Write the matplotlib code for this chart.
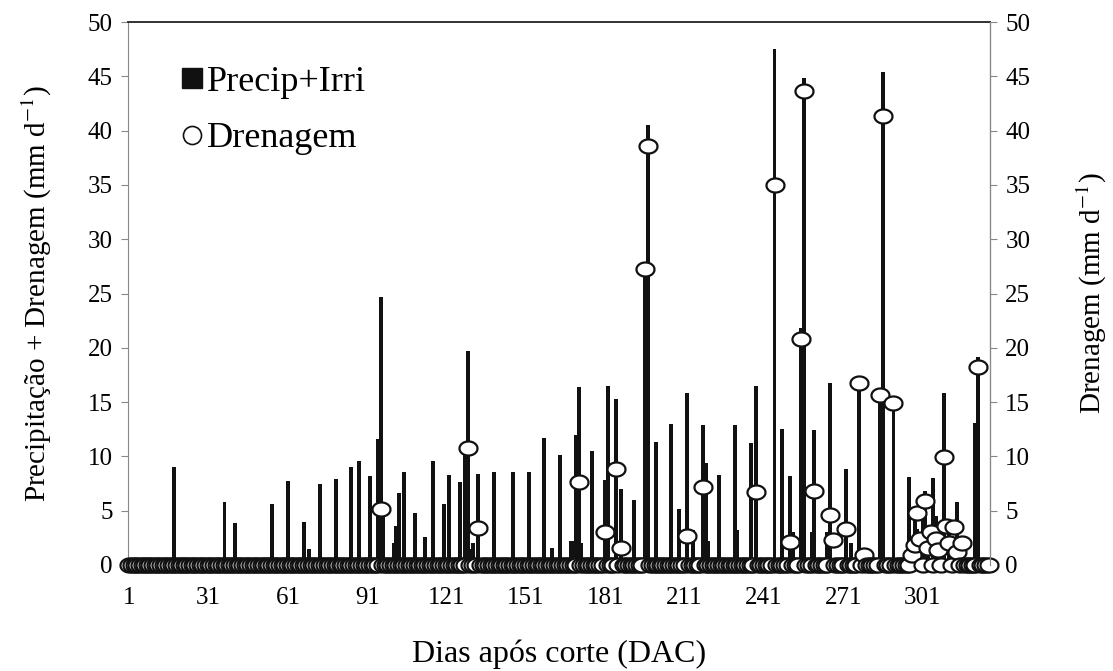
#Daily precipitation + irrigation and drainage after cutting
import numpy as np
import matplotlib.pyplot as plt
from matplotlib.lines import Line2D

plt.rcParams['font.family'] = ['Liberation Serif', 'DejaVu Serif']
plt.rcParams['mathtext.fontset'] = 'stix'

# Data (days with non-zero values, mm/d)
n_days = 326
rain_day = [18, 37, 41, 55, 61, 67, 69, 73, 79, 85, 88, 92, 95, 96, 97,
            101, 102, 103, 105, 109, 113, 116, 117, 120, 122, 126, 128, 129, 130, 131,
            133, 135, 139, 146, 152, 158, 161, 164, 168, 169, 170, 171, 172, 176,
            181, 182, 185, 187, 192, 196, 197, 200, 206, 209, 212, 214, 218, 219, 220,
            224, 230, 231, 236, 238, 245, 248, 251, 252, 255, 256, 259, 260, 265, 266,
            272, 274, 277, 285, 286, 290, 296, 298, 299, 301, 302, 303, 305, 306,
            309, 311, 314, 321, 322]
rain_mm = [9.0, 5.8, 3.9, 5.6, 7.7, 4.0, 1.5, 7.5, 7.9, 9.0, 9.6, 8.2, 11.6, 24.7, 5.6,
           2.0, 3.6, 6.6, 8.6, 4.8, 2.6, 9.6, 0.3, 5.6, 8.3, 7.6, 11.3, 19.7, 1.5, 2.0,
           8.4, 0.3, 8.6, 8.6, 8.6, 11.7, 1.6, 10.1, 2.2, 2.2, 12.0, 16.4, 2.0, 10.5,
           7.8, 16.5, 15.3, 7.0, 6.0, 26.5, 40.5, 11.3, 13.0, 5.2, 15.8, 3.2, 12.9, 9.4, 2.2,
           8.3, 12.9, 3.2, 11.2, 16.5, 47.5, 12.5, 8.2, 3.0, 21.8, 44.9, 3.0, 12.4, 3.0, 16.8,
           8.8, 2.0, 16.0, 16.2, 45.4, 15.6, 8.1, 4.8, 3.3, 6.0, 6.8, 3.0, 8.0, 4.5,
           15.8, 3.0, 5.8, 13.1, 19.2]

drain_day = [96, 129, 133, 171, 181, 185, 187, 196, 197, 212, 218, 238, 245, 251,
             255, 256, 260, 266, 267, 272, 277, 279, 285, 286, 290, 297, 298, 299, 300,
             302, 303, 304, 306, 307, 309, 310, 311, 313, 314, 316, 322]
drain_mm = [5.2, 10.8, 3.4, 7.6, 3.0, 8.8, 1.6, 27.3, 38.6, 2.7, 7.2, 6.7, 35.0, 2.1,
            20.8, 43.7, 6.8, 4.6, 2.3, 3.3, 16.8, 0.9, 15.7, 41.4, 14.9, 0.9, 1.8, 4.8, 2.4,
            5.9, 1.6, 3.0, 2.4, 1.4, 9.9, 3.6, 2.0, 3.5, 1.2, 2.0, 18.2]

tick_days = [1, 31, 61, 91, 121, 151, 181, 211, 241, 271, 301]

days = np.arange(1, n_days + 1)
rain = np.zeros(n_days)
rain[np.array(rain_day) - 1] = rain_mm
drain = np.zeros(n_days)
drain[np.array(drain_day) - 1] = drain_mm

# slightly flattened circle marker
t = np.linspace(0, 2 * np.pi, 40)
ellipse = list(zip(np.cos(t), 0.78 * np.sin(t)))

fig = plt.figure(figsize=(11.13, 6.71), dpi=100)
ax = fig.add_axes([0.115, 0.158, 0.7745, 0.809])
ax.bar(days, rain, width=1.5, color='#111111', linewidth=0)
ax.set_xlim(0.5, n_days + 0.5)
ax.set_ylim(0, 50)
ax.set_yticks(range(0, 51, 5))
ax.set_xticks(tick_days)
ax.set_xticklabels([str(d) for d in tick_days])
ax.tick_params(axis='x', length=0, pad=16, labelsize=18)
ax.tick_params(axis='y', direction='out', length=5, color='#888888', labelsize=18, pad=6)
ax.spines['left'].set_color('#888888')
ax.spines['top'].set_color('#222222')
ax.spines['top'].set_linewidth(1.3)
ax.set_ylabel('Precipitação + Drenagem (mm d$^{-1}$)', fontsize=21, labelpad=24)
ax.set_xlabel('Dias após corte (DAC)', fontsize=23, labelpad=22)

ax2 = ax.twinx()
ax2.set_ylim(0, 50)
ax2.set_yticks(range(0, 51, 5))
ax2.plot(days, drain, linestyle='none', marker=ellipse, markersize=13,
         markerfacecolor='white', markeredgecolor='#111111', markeredgewidth=1.6,
         clip_on=False)
ax2.tick_params(axis='y', direction='out', length=5, color='#888888', labelsize=18, pad=6)
ax2.spines['right'].set_color('#888888')
ax2.spines['left'].set_visible(False)
ax2.spines['top'].set_visible(False)
ax2.spines['bottom'].set_visible(False)
ax2.set_ylabel('Drenagem (mm d$^{-1}$)', fontsize=21, labelpad=32)

handles = [Line2D([], [], linestyle='none', marker='s', markersize=14, color='#111111'),
           Line2D([], [], linestyle='none', marker='o', markersize=13,
                  markerfacecolor='white', markeredgecolor='#111111', markeredgewidth=1.2)]
ax2.legend(handles, ['Precip+Irri', 'Drenagem'], loc='upper left',
           bbox_to_anchor=(0.045, 0.947), frameon=False, fontsize=26,
           handlelength=0.6, handletextpad=0.1, labelspacing=0.65, borderaxespad=0)

fig.savefig('out.png', dpi=100)
